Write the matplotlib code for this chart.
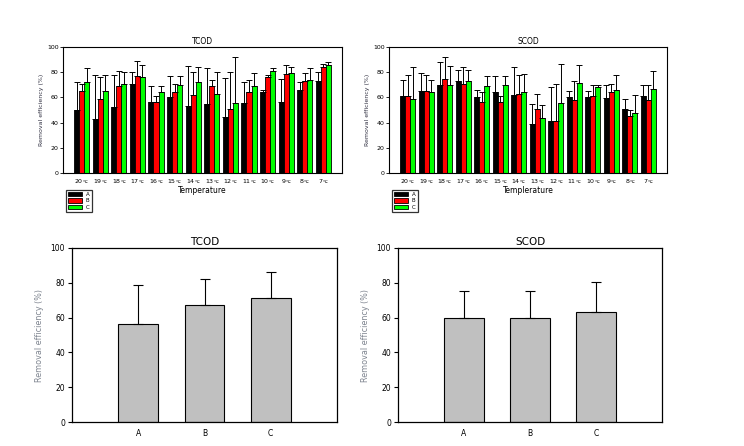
import numpy as np
import matplotlib
matplotlib.use('Agg')
import matplotlib.pyplot as plt
from matplotlib.patches import Patch

# temperaturas
temps = ['20', '19', '18', '17', '16', '15', '14', '13', '12', '11', '10', '9', '8', '7']

# TCOD por temperatura (A, B, C) y limite superior de la barra de error
tcod_a = [50, 43, 52, 71, 56, 60, 53, 55, 44.5, 55.5, 64, 56, 66, 73.4]
tcod_a_top = [72, 78, 78, 80, 69, 77, 85, 83, 75.5, 72.6, 66, 75, 72, 80.5]
tcod_b = [65, 59, 69, 77, 56, 64, 62, 69, 50.5, 64, 76, 78.4, 73.4, 84.5]
tcod_b_top = [71, 76, 81, 89, 61, 71, 80.5, 73.5, 80, 73.5, 78, 85.5, 79, 86.6]
tcod_c = [72, 65, 71, 76, 64, 70, 72, 62.5, 55.5, 69, 81.3, 79, 74, 86]
tcod_c_top = [83, 78, 80, 86, 69, 77, 84, 80, 92, 79, 83.7, 84.5, 83.7, 88.4]

# SCOD por temperatura
scod_a = [61, 65, 70, 73.4, 60, 64, 62, 38.7, 41.3, 60, 60, 59.5, 50.8, 61]
scod_a_top = [74, 79, 88.4, 82, 65.5, 76.6, 84.5, 55, 68, 64.7, 64.7, 69.5, 58.4, 69.5]
scod_b = [61, 65, 75, 71, 56, 56, 62.4, 50.5, 41.3, 57.6, 61, 64, 45, 57.6]
scod_b_top = [77.4, 78, 92.4, 84.5, 64.5, 61, 78, 63, 71, 73.4, 69.5, 71, 49.7, 69.5]
scod_c = [59, 64, 70, 73.4, 69, 70, 64, 43.4, 55.5, 71.3, 68, 65.5, 47.4, 66.3]
scod_c_top = [84.5, 74, 85, 82, 76.6, 76.6, 78.7, 53.7, 86.8, 86, 69.5, 77.4, 61.6, 81.3]

# promedios
grupos = ['A', 'B', 'C']
tcod_mean = [56.5, 67.5, 71.5]
tcod_err = [22.5, 14.5, 14.5]
scod_mean = [59.5, 60, 63.5]
scod_err = [16, 15.5, 17]

colores = ['black', '#ff0000', '#00ff00']

W, H = 744, 446
fig = plt.figure(figsize=(W / 100, H / 100), dpi=100)
fig.patch.set_facecolor('white')


def ax_px(l, t, r, b):
    return fig.add_axes([l / W, 1 - b / H, (r - l) / W, (b - t) / H])


def panel_temp(ax, series, titulo, xlab):
    x = np.arange(len(temps))
    w = 0.27
    for i, (vals, tops) in enumerate(series):
        vals = np.array(vals)
        up = np.array(tops) - vals
        ax.bar(x + (i - 1) * w, vals, w, color=colores[i], edgecolor='black', linewidth=0.6,
               yerr=[np.zeros_like(up), up], capsize=2.2,
               error_kw=dict(elinewidth=0.7, capthick=0.7, ecolor='black'))
    ax.set_xlim(-1, 14)
    ax.set_ylim(0, 100)
    ax.set_xticks(x)
    ax.set_xticklabels([t + '$_{℃}$' for t in temps], fontsize=4.5)
    ax.tick_params(axis='x', length=0, pad=3)
    ax.tick_params(axis='y', labelsize=4.5, length=2, width=0.6, pad=1)
    ax.set_yticks([0, 20, 40, 60, 80, 100])
    ax.set_title(titulo, fontsize=5.5, pad=2)
    ax.set_ylabel('Removal efficiency (%)', fontsize=4.5, labelpad=2, color='#333344')
    ax.set_xlabel(xlab, fontsize=5.5, labelpad=0)
    for s in ax.spines.values():
        s.set_linewidth(0.8)
    handles = [Patch(facecolor=c, edgecolor='black', linewidth=0.6) for c in colores]
    ax.legend(handles, grupos, loc='upper left', bbox_to_anchor=(0.0, -0.11), fontsize=4,
              frameon=True, fancybox=False, edgecolor='black', handlelength=2.6,
              handleheight=0.8, borderpad=0.4, labelspacing=0.25, handletextpad=0.6)
    ax.get_legend().get_frame().set_linewidth(0.9)


def panel_prom(ax, vals, err, titulo):
    x = np.arange(len(grupos))
    ax.bar(x, vals, 0.6, color='#c0c0c0', edgecolor='black', linewidth=0.8,
           yerr=[np.zeros(len(err)), err], capsize=3.5,
           error_kw=dict(elinewidth=0.8, capthick=0.8, ecolor='black'))
    ax.set_xlim(-1, 3)
    ax.set_ylim(0, 100)
    ax.set_xticks(x)
    ax.set_xticklabels(grupos, fontsize=5.5)
    ax.set_yticks([0, 20, 40, 60, 80, 100])
    ax.tick_params(axis='x', length=0, pad=5)
    ax.tick_params(axis='y', labelsize=5.5, length=3, width=0.8, pad=2)
    ax.set_title(titulo, fontsize=7.5, pad=2)
    ax.set_ylabel('Removal efficiency (%)', fontsize=5.8, color='#7f8590', labelpad=5)
    for s in ax.spines.values():
        s.set_linewidth(0.9)


ax1 = ax_px(63, 47, 342, 173)
panel_temp(ax1, [(tcod_a, tcod_a_top), (tcod_b, tcod_b_top), (tcod_c, tcod_c_top)], 'TCOD', 'Temperature')
ax2 = ax_px(389, 47, 667, 173)
panel_temp(ax2, [(scod_a, scod_a_top), (scod_b, scod_b_top), (scod_c, scod_c_top)], 'SCOD', 'Templerature')

ax3 = ax_px(72, 248, 337, 422)
panel_prom(ax3, tcod_mean, tcod_err, 'TCOD')
ax4 = ax_px(398, 248, 662, 422)
panel_prom(ax4, scod_mean, scod_err, 'SCOD')

fig.savefig('out.png', dpi=100)
